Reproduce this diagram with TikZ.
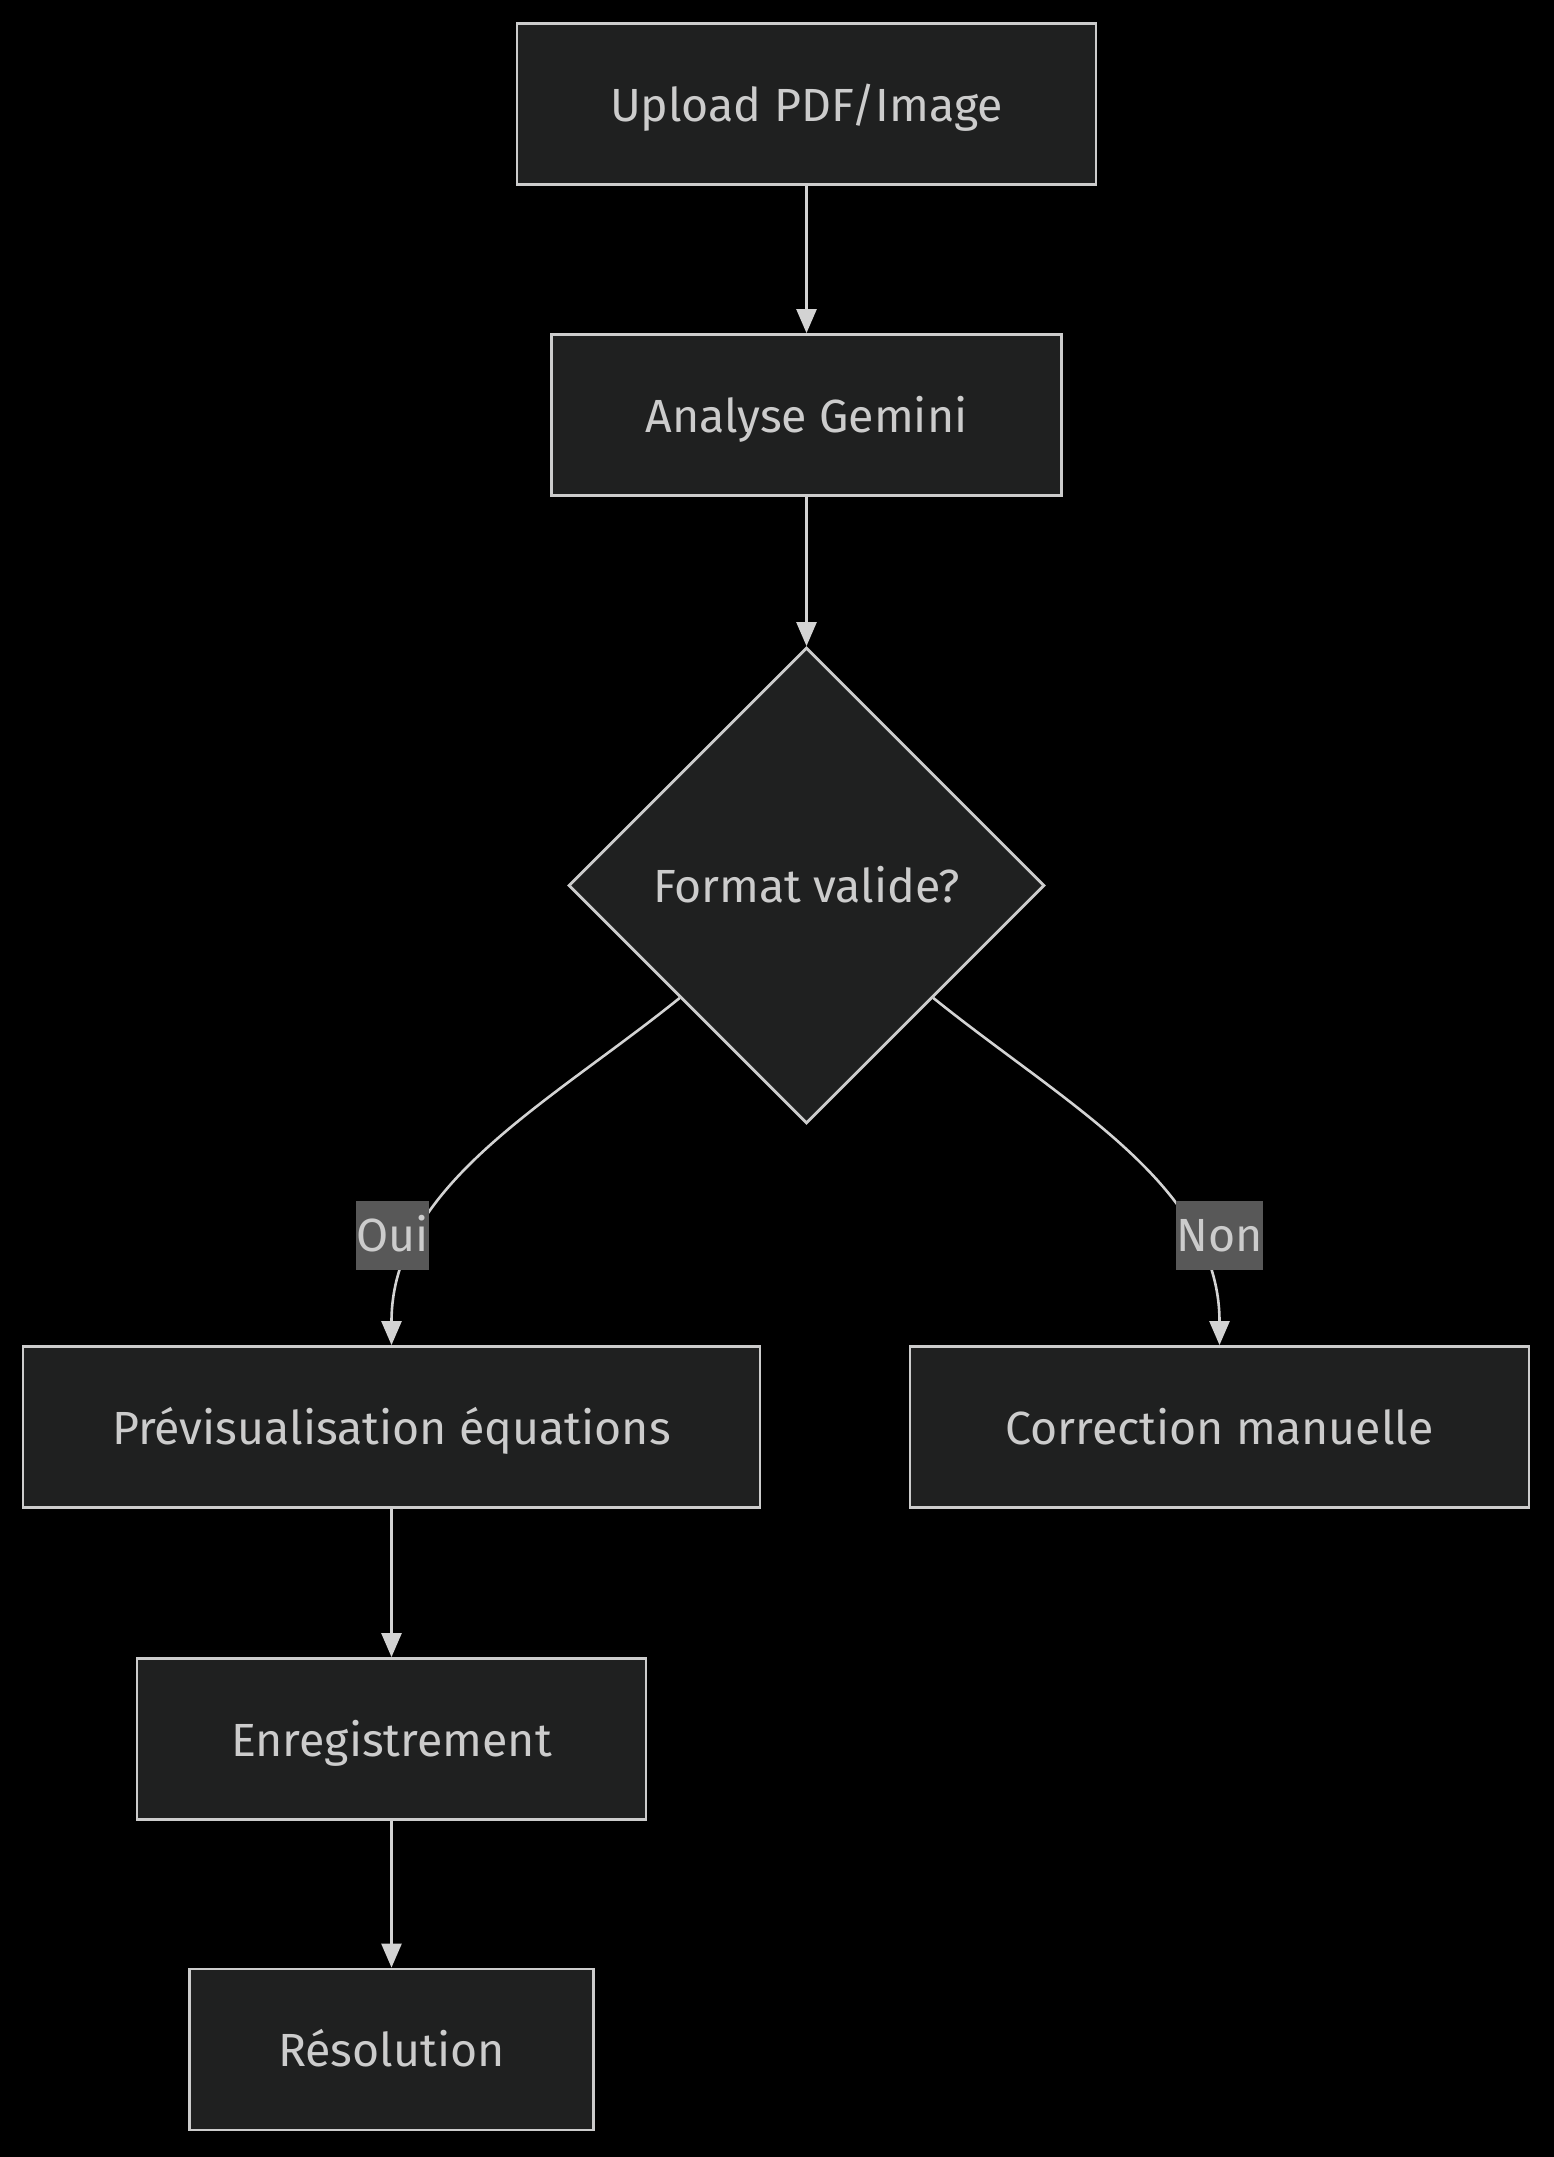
\documentclass[tikz,border=0pt]{standalone}
\usepackage{fontspec}
\setmainfont{Fira Sans}
\usetikzlibrary{shapes.geometric,arrows.meta,calc}
\definecolor{nodefill}{HTML}{1F2020}
\definecolor{nodestroke}{HTML}{CCCCCC}
\definecolor{txt}{HTML}{CCCCCC}
\definecolor{edgecol}{HTML}{D3D3D3}
\definecolor{lblfill}{HTML}{585858}
\begin{document}
\begin{tikzpicture}[x=1pt,y=-1pt,
  every node/.style={font=\fontsize{46.5}{54}\selectfont, text=txt},
  box/.style={draw=nodestroke, fill=nodefill, line width=2.8pt, rectangle, minimum height=161pt, inner sep=0pt, text height=44pt, text depth=10pt},
  decision/.style={draw=nodestroke, fill=nodefill, line width=2.8pt, diamond, minimum width=476pt, minimum height=476pt, inner sep=0pt, text height=44pt, text depth=10pt},
  edge/.style={draw=edgecol, line width=2.6pt, -{Triangle[length=24pt,width=20pt]}},
  lbl/.style={fill=lblfill, inner sep=0pt, minimum height=69pt, text height=42pt, text depth=10pt}]
\fill[black] (0,0) rectangle (1554,2157);
\useasboundingbox (0,0) rectangle (1554,2157);
\node[box, minimum width=579pt] (up) at (806.5,104) {Upload PDF/Image};
\node[box, minimum width=510pt] (an) at (806.5,415) {Analyse Gemini};
\node[decision] (fmt) at (806.5,885.5) {Format valide?};
\node[box, minimum width=737pt] (prev) at (391.5,1427) {Prévisualisation équations};
\node[box, minimum width=619pt] (corr) at (1219.5,1427) {Correction manuelle};
\node[box, minimum width=509pt] (enr) at (391.5,1739) {Enregistrement};
\node[box, minimum width=404pt] (res) at (391.5,2049.5) {Résolution};
\coordinate (s1) at ($(fmt.west)!0.47!(fmt.south)$);
\coordinate (s2) at ($(fmt.east)!0.47!(fmt.south)$);
\draw[edge] (up.south) -- (an.north);
\draw[edge] (an.south) -- (fmt.north);
\draw[edge] (s1) .. controls +(-130,105) and +(0,-160) .. (prev.north);
\draw[edge] (s2) .. controls +(130,105) and +(0,-160) .. (corr.north);
\draw[edge] (prev.south) -- (enr.north);
\draw[edge] (enr.south) -- (res.north);
\node[lbl] (oui) at (392.5,1235) {Oui};
\node[lbl] (non) at (1219.5,1235) {Non};
\end{tikzpicture}
\end{document}
